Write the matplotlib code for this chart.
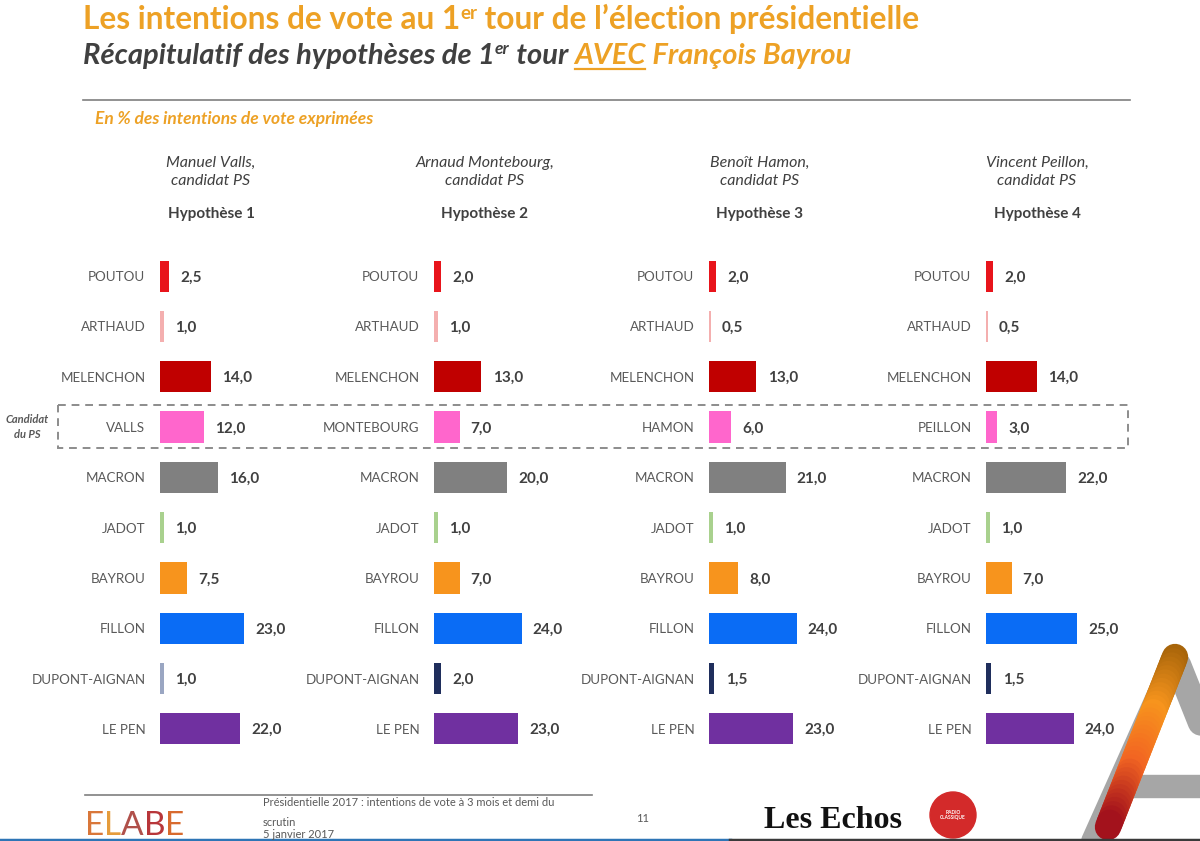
import matplotlib
matplotlib.use("Agg")
import matplotlib.pyplot as plt
from matplotlib.patches import Rectangle, Circle
from matplotlib.collections import LineCollection
import numpy as np

# ── Data ──────────────────────────────────────────────────────────────────────

CANDIDATES = ["POUTOU", "ARTHAUD", "MELENCHON", "PS", "MACRON", "JADOT",
              "BAYROU", "FILLON", "DUPONT-AIGNAN", "LE PEN"]
PS_NAMES = ["VALLS", "MONTEBOURG", "HAMON", "PEILLON"]
HEADERS = ["Manuel Valls,\ncandidat PS", "Arnaud Montebourg,\ncandidat PS",
           "Benoît Hamon,\ncandidat PS", "Vincent Peillon,\ncandidat PS"]
HYPOTHESES = ["Hypothèse 1", "Hypothèse 2", "Hypothèse 3", "Hypothèse 4"]

HYP1 = [2.5, 1.0, 14.0, 12.0, 16.0, 1.0, 7.5, 23.0, 1.0, 22.0]
HYP2 = [2.0, 1.0, 13.0, 7.0, 20.0, 1.0, 7.0, 24.0, 2.0, 23.0]
HYP3 = [2.0, 0.5, 13.0, 6.0, 21.0, 1.0, 8.0, 24.0, 1.5, 23.0]
HYP4 = [2.0, 0.5, 14.0, 3.0, 22.0, 1.0, 7.0, 25.0, 1.5, 24.0]
VALUES = [HYP1, HYP2, HYP3, HYP4]

# ── Style ─────────────────────────────────────────────────────────────────────

W, H = 1200, 841
ORANGE = "#EDA125"
DARK = "#404040"
GREY = "#595959"

BAR_COLORS = ["#E8141B", "#F4AFAF", "#C00000", "#FF66CC", "#808080",
              "#A9D18E", "#F7941D", "#0A6CF5", "#1F2E5C", "#7030A0"]
DUPONT_COLORS = ["#9AA6C2", "#1F2E5C", "#1F2E5C", "#1F2E5C"]

PANEL_X = [160, 434, 709, 986]      # left edge of the bars, px
PX_PER_UNIT = 3.65
ROW_TOP, ROW_BOTTOM = 251, 754

plt.rcParams["font.family"] = ["Lato", "DejaVu Sans"]

fig = plt.figure(figsize=(W / 100, H / 100), dpi=100)
bg = fig.add_axes([0, 0, 1, 1])
bg.set_xlim(0, W)
bg.set_ylim(H, 0)
bg.axis("off")
renderer = fig.canvas.get_renderer()


def runs(x, y, parts):
    """Draw text pieces one after another on a common baseline (pixel coords)."""
    for s, kw, dy in parts:
        t = bg.text(x, y + dy, s, va="baseline", ha="left", **kw)
        x = bg.transData.inverted().transform(
            (t.get_window_extent(renderer).x1, 0))[0]
    return x


# ── Title block ───────────────────────────────────────────────────────────────

tkw = dict(color=ORANGE, fontsize=22.8, fontweight="bold")
runs(83, 29, [("Les intentions de vote au 1", tkw, 0),
              ("er", dict(tkw, fontsize=13.5), -10),
              (" tour de l’élection présidentielle", tkw, 0)])

skw = dict(color=DARK, fontsize=21, fontweight="bold", style="italic")
x = runs(83, 64, [("Récapitulatif des hypothèses de 1", skw, 0),
                  ("er", dict(skw, fontsize=12.5), -10),
                  (" tour ", skw, 0)])
okw = dict(skw, color=ORANGE)
x_end = runs(x, 64, [("AVEC", okw, 0)])
bg.plot([x + 1, x_end - 1], [69, 69], color=ORANGE, lw=1.6)
runs(x_end, 64, [(" François Bayrou", okw, 0)])

bg.plot([83, 1130], [100, 100], color="#7F7F7F", lw=1.2)
bg.text(95, 124, "En % des intentions de vote exprimées", color=ORANGE,
        fontsize=12.5, fontweight="bold", style="italic", va="baseline")

# dashed box around the PS candidate row
bg.add_patch(Rectangle((58, 405), 1070, 43, fill=False, ec="#8C8C8C",
                       lw=1.4, ls=(0, (4, 3))))
bg.text(27, 427, "Candidat\ndu PS", color=GREY, fontsize=8, fontweight="bold",
        style="italic", ha="center", va="center", linespacing=1.5)

# ── Panels ────────────────────────────────────────────────────────────────────

xmax = 30
for i, (bx, vals) in enumerate(zip(PANEL_X, VALUES)):
    ax = fig.add_axes([bx / W, 1 - ROW_BOTTOM / H,
                       xmax * PX_PER_UNIT / W, (ROW_BOTTOM - ROW_TOP) / H])
    ax.set_facecolor("none")
    labels = [PS_NAMES[i] if c == "PS" else c for c in CANDIDATES]
    colors = list(BAR_COLORS)
    colors[8] = DUPONT_COLORS[i]
    rows = np.arange(len(vals))
    ax.barh(rows, vals, height=0.62, color=colors, lw=0)
    for r, v in zip(rows, vals):
        ax.annotate(f"{v:.1f}".replace(".", ","), (v, r), xytext=(8, -1),
                    textcoords="offset points", va="center", ha="left",
                    fontsize=11, fontweight="bold", color=DARK)
    ax.set_xlim(0, xmax)
    ax.set_ylim(len(vals) - 0.5, -0.5)
    ax.set_yticks(rows)
    ax.set_yticklabels(labels, fontsize=9.6, color=GREY)
    ax.tick_params(axis="y", length=0, pad=10.5)
    ax.set_xticks([])
    for s in ax.spines.values():
        s.set_visible(False)

    cx = bx + 51
    bg.text(cx, 172, HEADERS[i], ha="center", va="center", fontsize=11.5,
            style="italic", color=DARK, linespacing=1.3)
    bg.text(cx, 214, HYPOTHESES[i], ha="center", va="center", fontsize=11,
            fontweight="bold", color=DARK)

# ── Footer ────────────────────────────────────────────────────────────────────

bg.plot([85, 592], [795, 795], color="#7F7F7F", lw=1.2)
fkw = dict(color=GREY, fontsize=8, va="center")
bg.text(263, 803, "Présidentielle 2017 : intentions de vote à 3 mois et demi du", **fkw)
bg.text(263, 822, "scrutin", **fkw)
bg.text(263, 835, "5 janvier 2017", **fkw)
bg.text(636, 818, "11", **fkw)

elabe_colors = ["#D9773A", "#E59C3C", "#B0504A", "#B8363A", "#D86A2E"]
runs(85, 835, [(ch, dict(color=c, fontsize=24, fontweight="normal"), 0)
               for ch, c in zip("ELABE", elabe_colors)])

bg.text(764, 828, "Les Echos", color="#111111", fontsize=23, fontweight="bold",
        family="Liberation Serif", va="baseline")
bg.add_patch(Circle((953, 815), 23, color="#D32A2A"))
bg.text(953, 815, "RADIO\nCLASSIQUE", color="white", fontsize=3.5,
        ha="center", va="center", fontweight="bold")

# stylised "A" logo, bottom right
bg.plot([1172, 1086], [668, 860], color="#A6A6A6", lw=19, solid_capstyle="round")
bg.plot([1178, 1240], [665, 820], color="#A6A6A6", lw=19, solid_capstyle="round")
bg.add_patch(Rectangle((1113, 775), 90, 22, color="#A6A6A6"))
n = 40
xs = np.linspace(1175, 1108, n + 1)
ys = np.linspace(657, 827, n + 1)
segs = [[(xs[k], ys[k]), (xs[k + 1], ys[k + 1])] for k in range(n)]
cmap = matplotlib.colors.LinearSegmentedColormap.from_list(
    "a", ["#A8650A", "#F7941D", "#F26522", "#A3121C"])
bg.add_collection(LineCollection(segs, colors=cmap(np.linspace(0, 1, n)),
                                 linewidths=19, capstyle="round"))

bg.plot([0, 730], [840, 840], color="#2E75B6", lw=2.5)
bg.plot([730, 1200], [840, 840], color="#3A3A3A", lw=2.5)

fig.savefig("out.png", dpi=100)
